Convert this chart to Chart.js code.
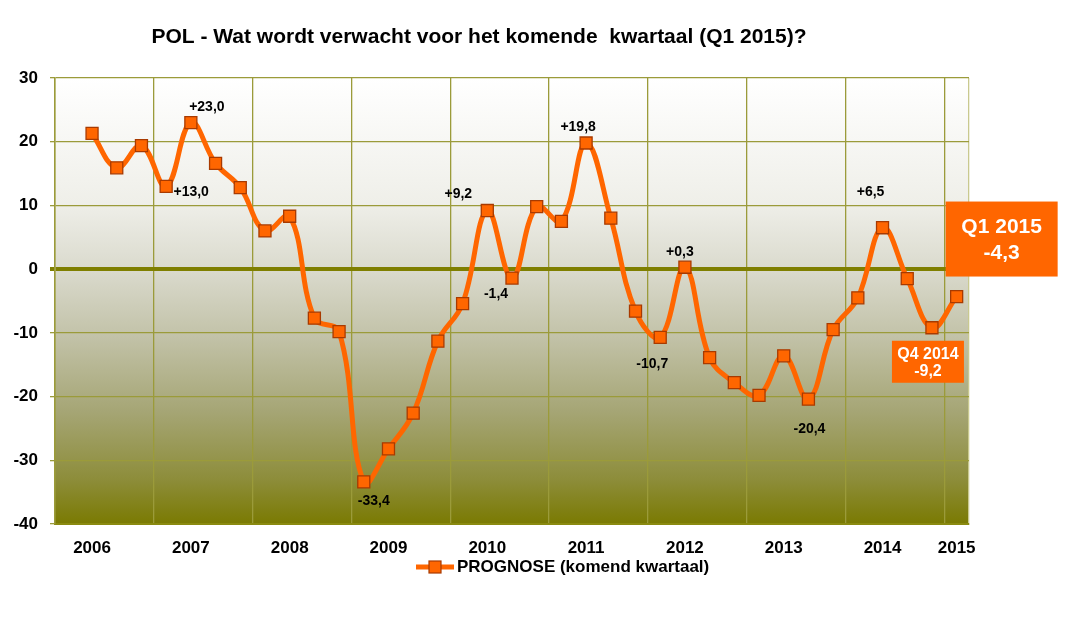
<!DOCTYPE html>
<html>
<head>
<meta charset="utf-8">
<script src="https://cdn.jsdelivr.net/npm/chart.js@4.4.1/dist/chart.umd.min.js"></script>
<style>
html,body{margin:0;padding:0;background:#fff;}
#wrap{width:1082px;height:634px;position:relative;}
</style>
</head>
<body>
<div id="wrap"><canvas id="c"></canvas></div>
<script>
// ---- data ----
const titleText = 'POL - Wat wordt verwacht voor het komende  kwartaal (Q1 2015)?';
const seriesName = 'PROGNOSE (komend kwartaal)';
const quarters = [
  'Q1 2006','Q2 2006','Q3 2006','Q4 2006',
  'Q1 2007','Q2 2007','Q3 2007','Q4 2007',
  'Q1 2008','Q2 2008','Q3 2008','Q4 2008',
  'Q1 2009','Q2 2009','Q3 2009','Q4 2009',
  'Q1 2010','Q2 2010','Q3 2010','Q4 2010',
  'Q1 2011','Q2 2011','Q3 2011','Q4 2011',
  'Q1 2012','Q2 2012','Q3 2012','Q4 2012',
  'Q1 2013','Q2 2013','Q3 2013','Q4 2013',
  'Q1 2014','Q2 2014','Q3 2014','Q4 2014',
  'Q1 2015'
];
const tickLabels = [
  '','2006','','','','2007','','','','2008','','','','2009','','','','2010','','',
  '','2011','','','','2012','','','','2013','','','','2014','','','2015'
];
const prognose = [
  null, 21.3, 15.9, 19.4, 13.0, 23.0, 16.6, 12.8, 6.0, 8.3,
  -7.7, -9.8, -33.4, -28.2, -22.6, -11.3, -5.4, 9.2, -1.4, 9.8,
  7.5, 19.8, 8.0, -6.6, -10.7, 0.3, -13.9, -17.8, -19.8, -13.6,
  -20.4, -9.5, -4.5, 6.5, -1.5, -9.2, -4.3
];
const yTicks = [30, 20, 10, 0, -10, -20, -30, -40];
const labelledPoints = [4, 5, 12, 17, 18, 21, 24, 25, 30, 33];
const calloutPoints = [35, 36];

// ---- styles ----
const FONT = '"Liberation Sans", Arial, sans-serif';
const ORANGE = '#FF6600';
const labelOffsets = {4:[25,6],5:[16,-15],12:[10,19],17:[-29,-16],18:[-16,16],21:[-8,-16],24:[-8,27],25:[-5,-15],30:[1,30],33:[-12,-36]};
const calloutStyle = {
  35: {dx:-40, dy:13, w:72, h:42, font:16, line1:-7, line2:10},
  36: {dx:-11, dy:-95, w:112, h:75, font:21, line1:-12, line2:14}
};

function fmt(v){ return (v > 0 ? '+' : '') + v.toFixed(1).replace('.', ','); }

const bgPlugin = {
  id: 'bg',
  beforeDraw(chart){
    const {ctx, chartArea:a} = chart;
    const g = ctx.createLinearGradient(0, a.top, 0, a.bottom);
    g.addColorStop(0, '#ffffff');
    g.addColorStop(0.28, '#efefe9');
    g.addColorStop(0.43, '#dadacd');
    g.addColorStop(0.58, '#c2c2a8');
    g.addColorStop(0.75, '#a5a574');
    g.addColorStop(0.9, '#8d8d3a');
    g.addColorStop(1, '#7a7a02');
    ctx.save();
    ctx.fillStyle = g;
    ctx.fillRect(a.left, a.top, a.right - a.left, a.bottom - a.top);
    ctx.restore();
  }
};

const decoPlugin = {
  id: 'deco',
  afterDraw(chart){
    const {ctx, chartArea:a} = chart;
    const meta = chart.getDatasetMeta(0);
    ctx.save();
    // title
    ctx.fillStyle = '#000';
    ctx.font = 'bold 21px ' + FONT;
    ctx.textAlign = 'center';
    ctx.textBaseline = 'middle';
    ctx.fillText(titleText, 479, 37);
    // data labels
    ctx.font = 'bold 14px ' + FONT;
    labelledPoints.forEach(i => {
      const p = meta.data[i];
      const o = labelOffsets[i];
      ctx.fillText(fmt(prognose[i]), p.x + o[0], p.y + o[1]);
    });
    // callouts
    calloutPoints.forEach(i => {
      const p = meta.data[i];
      const s = calloutStyle[i];
      const x0 = p.x + s.dx, y0 = p.y + s.dy;
      ctx.fillStyle = ORANGE;
      ctx.fillRect(x0, y0, s.w, s.h);
      ctx.fillStyle = '#fff';
      ctx.font = 'bold ' + s.font + 'px ' + FONT;
      const cx = x0 + s.w / 2, cy = y0 + s.h / 2;
      ctx.fillText(quarters[i], cx, cy + s.line1);
      ctx.fillText(fmt(prognose[i]), cx, cy + s.line2);
    });
    // legend
    const ly = 567;
    ctx.strokeStyle = ORANGE;
    ctx.lineWidth = 5;
    ctx.beginPath(); ctx.moveTo(416, ly); ctx.lineTo(454, ly); ctx.stroke();
    ctx.fillStyle = ORANGE;
    ctx.fillRect(429, ly - 6, 12, 12);
    ctx.strokeStyle = '#a83a00';
    ctx.lineWidth = 1.2;
    ctx.strokeRect(429, ly - 6, 12, 12);
    ctx.fillStyle = '#000';
    ctx.font = 'bold 17px ' + FONT;
    ctx.textAlign = 'left';
    ctx.fillText(seriesName, 457, ly);
    ctx.restore();
  }
};

new Chart(document.getElementById('c'), {
  type: 'line',
  data: {
    labels: quarters,
    datasets: [{
      label: seriesName,
      data: prognose,
      borderColor: ORANGE,
      borderWidth: 5,
      tension: 0.4,
      pointStyle: 'rect',
      pointRadius: 8.5,
      pointBackgroundColor: ORANGE,
      pointBorderColor: '#a83a00',
      pointBorderWidth: 1.3
    }]
  },
  options: {
    responsive: true,
    maintainAspectRatio: false,
    animation: false,
    events: [],
    layout: { padding: { top: 78, right: 113, bottom: 60, left: 0 } },
    plugins: { legend: { display: false }, tooltip: { enabled: false }, title: { display: false } },
    scales: {
      x: {
        type: 'category',
        offset: true,
        afterFit(s){ s.height = 50; },
        grid: {
          offset: true,
          drawTicks: false,
          lineWidth: 1.3,
          color(ctx){
            if (ctx.type !== 'tick') return '#c9c98f';
            return ctx.index % 4 === 0 ? '#9b9b3a' : 'rgba(0,0,0,0)';
          }
        },
        border: { display: true, color: '#8a8a10', width: 2 },
        ticks: {
          autoSkip: false,
          maxRotation: 0,
          padding: 14,
          color: '#000',
          font: { family: FONT, size: 17, weight: 'bold' },
          callback(v, i){ return tickLabels[i]; }
        }
      },
      y: {
        min: yTicks[yTicks.length - 1],
        max: yTicks[0],
        afterFit(s){ s.width = 55; },
        afterBuildTicks(s){ s.ticks = yTicks.map(v => ({value: v})); },
        grid: {
          tickLength: 5,
          lineWidth(ctx){ return ctx.tick && ctx.tick.value === 0 ? 4 : 1.3; },
          color(ctx){ return ctx.tick && ctx.tick.value === 0 ? '#7f7f00' : '#9b9b3a'; }
        },
        border: { display: true, color: '#9b9b3a', width: 1.5 },
        ticks: {
          padding: 12,
          color: '#000',
          font: { family: FONT, size: 17, weight: 'bold' }
        }
      }
    }
  },
  plugins: [bgPlugin, decoPlugin]
});
</script>
</body>
</html>
